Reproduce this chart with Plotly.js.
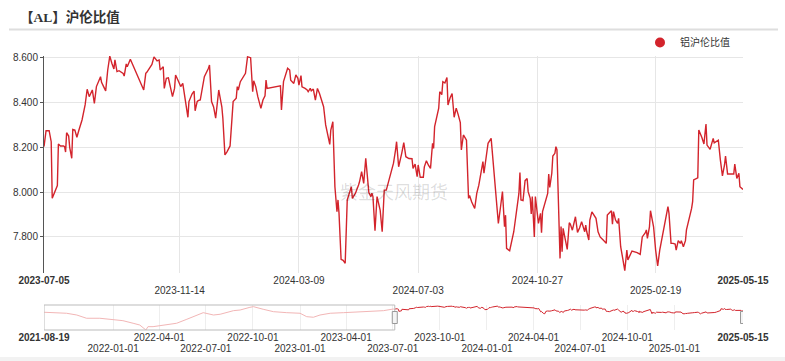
<!DOCTYPE html>
<html>
<head>
<meta charset="utf-8">
<script src="https://cdn.plot.ly/plotly-3.0.1.min.js"></script>
<style>html,body{margin:0;padding:0;background:#fff;}#chart{width:785px;height:361px;}</style>
</head>
<body>
<div id="chart"></div>
<script>
// ---- data ----
const seriesName = '铝沪伦比值';
const dates = ['2023-07-05','2023-07-07','2023-07-10','2023-07-12','2023-07-13','2023-07-16','2023-07-18','2023-07-19','2023-07-21','2023-07-24','2023-07-25','2023-07-26','2023-07-27','2023-07-29','2023-07-30','2023-08-01','2023-08-02','2023-08-04','2023-08-06','2023-08-08','2023-08-11','2023-08-14','2023-08-15','2023-08-16','2023-08-18','2023-08-21','2023-08-23','2023-08-24','2023-08-25','2023-08-29','2023-08-30','2023-09-01','2023-09-03','2023-09-05','2023-09-07','2023-09-09','2023-09-11','2023-09-12','2023-09-14','2023-09-16','2023-09-20','2023-09-21','2023-09-23','2023-09-24','2023-09-27','2023-10-10','2023-10-12','2023-10-13','2023-10-16','2023-10-18','2023-10-20','2023-10-23','2023-10-25','2023-10-26','2023-10-27','2023-10-29','2023-10-30','2023-11-01','2023-11-03','2023-11-05','2023-11-07','2023-11-09','2023-11-10','2023-11-13','2023-11-15','2023-11-17','2023-11-18','2023-11-20','2023-11-22','2023-11-23','2023-11-26','2023-11-28','2023-11-29','2023-12-01','2023-12-02','2023-12-04','2023-12-06','2023-12-08','2023-12-12','2023-12-13','2023-12-15','2023-12-17','2023-12-19','2023-12-22','2023-12-23','2023-12-25','2023-12-26','2023-12-28','2023-12-30','2024-01-02','2024-01-04','2024-01-05','2024-01-08','2024-01-09','2024-01-10','2024-01-12','2024-01-17','2024-01-19','2024-01-22','2024-01-24','2024-01-25','2024-01-27','2024-01-29','2024-02-01','2024-02-03','2024-02-05','2024-02-06','2024-02-07','2024-02-20','2024-02-21','2024-02-23','2024-02-25','2024-02-27','2024-02-29','2024-03-01','2024-03-04','2024-03-06','2024-03-08','2024-03-09','2024-03-11','2024-03-12','2024-03-15','2024-03-17','2024-03-18','2024-03-20','2024-03-21','2024-03-23','2024-03-25','2024-03-27','2024-03-29','2024-04-02','2024-04-04','2024-04-08','2024-04-09','2024-04-11','2024-04-13','2024-04-15','2024-04-16','2024-04-17','2024-04-19','2024-04-21','2024-04-23','2024-04-25','2024-04-28','2024-04-29','2024-04-30','2024-05-03','2024-05-06','2024-05-07','2024-05-09','2024-05-11','2024-05-13','2024-05-15','2024-05-16','2024-05-18','2024-05-19','2024-05-20','2024-05-22','2024-05-24','2024-05-25','2024-05-27','2024-05-29','2024-05-31','2024-06-02','2024-06-04','2024-06-06','2024-06-09','2024-06-11','2024-06-12','2024-06-14','2024-06-15','2024-06-17','2024-06-19','2024-06-21','2024-06-24','2024-06-27','2024-06-28','2024-06-30','2024-07-02','2024-07-03','2024-07-05','2024-07-08','2024-07-09','2024-07-11','2024-07-13','2024-07-15','2024-07-17','2024-07-18','2024-07-19','2024-07-22','2024-07-23','2024-07-24','2024-07-26','2024-07-27','2024-07-29','2024-07-31','2024-08-01','2024-08-03','2024-08-05','2024-08-07','2024-08-09','2024-08-11','2024-08-13','2024-08-14','2024-08-16','2024-08-19','2024-08-21','2024-08-22','2024-08-24','2024-08-27','2024-08-29','2024-08-31','2024-09-02','2024-09-04','2024-09-05','2024-09-07','2024-09-09','2024-09-12','2024-09-14','2024-09-17','2024-09-19','2024-09-21','2024-09-23','2024-09-25','2024-09-26','2024-09-27','2024-09-30','2024-10-04','2024-10-07','2024-10-09','2024-10-10','2024-10-11','2024-10-13','2024-10-15','2024-10-17','2024-10-18','2024-10-20','2024-10-21','2024-10-22','2024-10-24','2024-10-25','2024-10-27','2024-10-28','2024-10-30','2024-10-31','2024-11-01','2024-11-03','2024-11-06','2024-11-07','2024-11-08','2024-11-10','2024-11-11','2024-11-13','2024-11-14','2024-11-15','2024-11-18','2024-11-19','2024-11-20','2024-11-21','2024-11-23','2024-11-25','2024-11-27','2024-11-28','2024-11-30','2024-12-03','2024-12-05','2024-12-07','2024-12-09','2024-12-12','2024-12-13','2024-12-14','2024-12-16','2024-12-17','2024-12-19','2024-12-20','2024-12-23','2024-12-25','2024-12-27','2024-12-30','2025-01-02','2025-01-03','2025-01-06','2025-01-07','2025-01-08','2025-01-09','2025-01-11','2025-01-13','2025-01-14','2025-01-16','2025-01-18','2025-01-20','2025-01-22','2025-01-23','2025-01-27','2025-02-01','2025-02-04','2025-02-06','2025-02-09','2025-02-10','2025-02-11','2025-02-13','2025-02-14','2025-02-16','2025-02-17','2025-02-19','2025-02-21','2025-02-23','2025-02-25','2025-02-26','2025-03-01','2025-03-03','2025-03-04','2025-03-06','2025-03-08','2025-03-10','2025-03-11','2025-03-13','2025-03-15','2025-03-16','2025-03-18','2025-03-20','2025-03-21','2025-03-24','2025-03-26','2025-03-27','2025-03-28','2025-04-01','2025-04-02','2025-04-05','2025-04-07','2025-04-09','2025-04-10','2025-04-13','2025-04-16','2025-04-17','2025-04-19','2025-04-21','2025-04-23','2025-04-25','2025-04-27','2025-04-28','2025-04-30','2025-05-02','2025-05-05','2025-05-06','2025-05-07','2025-05-09','2025-05-11','2025-05-12','2025-05-15'];
const values = [8.203,8.274,8.274,8.225,7.972,8.012,8.029,8.215,8.206,8.206,8.203,8.179,8.265,8.250,8.200,8.151,8.280,8.277,8.245,8.277,8.322,8.389,8.441,8.459,8.426,8.456,8.396,8.450,8.471,8.515,8.490,8.471,8.452,8.545,8.607,8.575,8.550,8.590,8.538,8.542,8.530,8.518,8.572,8.560,8.593,8.456,8.530,8.535,8.560,8.570,8.604,8.586,8.590,8.545,8.550,8.560,8.463,8.508,8.510,8.470,8.426,8.463,8.523,8.493,8.471,8.485,8.456,8.411,8.334,8.404,8.438,8.451,8.363,8.404,8.408,8.411,8.463,8.515,8.553,8.567,8.404,8.380,8.330,8.456,8.430,8.381,8.330,8.166,8.180,8.206,8.337,8.404,8.419,8.471,8.456,8.493,8.530,8.604,8.600,8.448,8.497,8.471,8.426,8.374,8.411,8.430,8.500,8.463,8.474,8.367,8.493,8.530,8.553,8.545,8.500,8.485,8.523,8.508,8.478,8.520,8.470,8.463,8.456,8.448,8.463,8.452,8.460,8.411,8.463,8.440,8.381,8.300,8.213,8.277,8.314,8.024,7.912,7.965,7.905,7.700,7.695,7.682,7.965,8.009,8.024,7.972,7.995,8.032,8.047,8.091,8.039,8.151,8.017,7.998,7.980,7.995,7.980,7.828,7.980,7.958,7.920,7.823,8.009,8.009,8.047,8.072,8.129,8.188,8.225,8.113,8.130,8.173,8.221,8.158,8.150,8.149,8.106,8.125,8.069,8.121,8.066,8.066,8.113,8.140,8.120,8.106,8.218,8.195,8.292,8.367,8.375,8.448,8.435,8.493,8.487,8.512,8.389,8.420,8.440,8.334,8.375,8.345,8.310,8.188,8.255,8.232,7.972,7.985,7.957,7.927,7.994,8.031,8.076,8.136,8.084,8.143,8.218,8.240,8.128,7.994,7.860,7.930,8.002,7.845,7.897,7.749,7.738,7.823,7.920,7.994,8.087,7.965,7.962,8.051,8.061,8.002,7.972,7.902,7.980,7.800,7.980,7.897,7.860,7.905,7.819,7.913,7.950,7.994,8.081,8.021,8.084,8.161,8.173,8.203,8.190,7.704,7.846,7.734,7.838,7.786,7.744,7.863,7.857,7.830,7.890,7.820,7.840,7.868,7.823,7.853,7.823,7.786,7.875,7.912,7.905,7.883,7.823,7.800,7.786,7.771,7.898,7.913,7.917,7.857,7.913,7.875,7.860,7.883,7.756,7.704,7.649,7.741,7.697,7.737,7.730,7.722,7.800,7.819,7.831,7.793,7.845,7.917,7.868,7.845,7.741,7.670,7.741,7.793,7.816,7.893,7.935,7.905,7.771,7.771,7.768,7.741,7.783,7.771,7.783,7.756,7.783,7.831,7.883,7.927,7.957,8.054,8.064,8.277,8.244,8.215,8.304,8.210,8.191,8.240,8.220,8.228,8.232,8.143,8.072,8.121,8.161,8.081,8.081,8.081,8.081,8.125,8.061,8.084,8.024,8.012];

// earlier history, visible only in the overview strip
const histDates = ['2021-08-19','2021-09-13','2021-10-02','2021-10-22','2021-11-10','2021-12-06','2022-01-01','2022-01-20','2022-02-09','2022-02-22','2022-03-06','2022-03-10','2022-03-20','2022-04-16','2022-05-05','2022-05-25','2022-06-13','2022-06-26','2022-07-16','2022-07-29','2022-08-24','2022-09-06','2022-09-25','2022-10-02','2022-10-21','2022-11-10','2022-12-06','2023-01-01','2023-01-14','2023-01-27','2023-02-09','2023-03-01','2023-03-27','2023-04-22','2023-05-18','2023-06-13','2023-07-02','2023-07-05'];
const histValues = [7.86,7.82,7.74,7.53,7.14,7.14,7.02,6.85,6.54,6.33,5.73,6.13,6.13,6.33,6.54,7.02,7.53,7.81,7.53,7.62,8.05,8.13,8.45,8.53,8.22,7.93,7.81,7.74,7.33,7.26,7.53,7.74,7.81,7.86,7.93,8.05,8.25,8.203];

const mainTicksTop = ['2023-07-05','2024-03-09','2024-10-27','2025-05-15'];
const mainTicksBottom = ['2023-11-14','2024-07-03','2025-02-19'];
const navTicksTop = ['2021-08-19','2022-04-01','2022-10-01','2023-04-01','2023-10-01','2024-04-01','2024-10-01','2025-05-15'];
const navTicksBottom = ['2022-01-01','2022-07-01','2023-01-01','2023-07-01','2024-01-01','2024-07-01','2025-01-01'];
const yTicks = [7.8, 8.0, 8.2, 8.4, 8.6];

// ---- drawing ----
const W = 785, H = 361;
const RED = '#d3242c';
const px = v => v / W;
const py = v => 1 - v / H;
const xDom = [px(44), px(743)];
const boldEnds = (arr) => arr.map((d, i) => (i === 0 || i === arr.length - 1) ? '<b>' + d + '</b>' : d);
const blanks = (arr) => arr.map(() => '');

const traces = [
  {x: dates, y: values, xaxis: 'x', yaxis: 'y', type: 'scatter', mode: 'lines',
   line: {color: RED, width: 1.4}, showlegend: false, hoverinfo: 'skip'},
  {x: histDates, y: histValues, xaxis: 'x2', yaxis: 'y2', type: 'scatter', mode: 'lines',
   line: {color: '#f2b6b6', width: 1}, showlegend: false, hoverinfo: 'skip'},
  {x: dates, y: values, xaxis: 'x2', yaxis: 'y2', type: 'scatter', mode: 'lines',
   line: {color: RED, width: 1}, showlegend: false, hoverinfo: 'skip'},
  // carriers for the second row of tick labels (no visible marks)
  {x: mainTicksBottom, y: mainTicksBottom.map(() => null), xaxis: 'x3', yaxis: 'y',
   type: 'scatter', mode: 'markers', showlegend: false, hoverinfo: 'skip'},
  {x: navTicksBottom, y: navTicksBottom.map(() => null), xaxis: 'x4', yaxis: 'y2',
   type: 'scatter', mode: 'markers', showlegend: false, hoverinfo: 'skip'},
  {x: [null], y: [null], xaxis: 'x', yaxis: 'y', type: 'scatter', mode: 'markers',
   marker: {color: RED, size: 10, symbol: 'circle'}, name: seriesName, showlegend: true}
];

const layout = {
  width: W, height: H,
  margin: {l: 0, r: 0, t: 0, b: 0},
  paper_bgcolor: '#ffffff', plot_bgcolor: 'rgba(0,0,0,0)',
  font: {family: 'Liberation Sans, Arial, sans-serif', size: 10, color: '#333'},
  title: {text: '<b>【AL】沪伦比值</b>', x: px(20), xanchor: 'left', xref: 'paper',
          y: py(17), yanchor: 'middle', yref: 'paper',
          font: {family: 'Liberation Serif, Noto Sans CJK SC, serif', size: 13.5, color: '#333'}},
  xaxis: {domain: xDom, anchor: 'y', type: 'date', range: ['2023-07-05', '2025-05-15'],
          tickmode: 'array', tickvals: mainTicksTop.concat(mainTicksBottom),
          ticktext: boldEnds(mainTicksTop).concat(blanks(mainTicksBottom)),
          showgrid: true, gridcolor: '#e6e6e6', gridwidth: 1, zeroline: false, showline: false,
          ticks: '', tickfont: {size: 10, color: '#333'}, fixedrange: true},
  xaxis3: {overlaying: 'x', anchor: 'y', side: 'bottom', type: 'date', range: ['2023-07-05', '2025-05-15'],
          tickmode: 'array', tickvals: mainTicksBottom, ticktext: mainTicksBottom,
          showgrid: false, zeroline: false, showline: false, ticks: '',
          ticklabelstandoff: 10, tickfont: {size: 10, color: '#333'}, fixedrange: true},
  yaxis: {domain: [py(272.5), py(56)], anchor: 'x', range: [7.641, 8.6076],
          tickmode: 'array', tickvals: yTicks, tickformat: '.3f',
          showgrid: true, gridcolor: '#e6e6e6', zeroline: false,
          showline: true, linecolor: '#555', linewidth: 1,
          ticks: 'outside', ticklen: 3, tickcolor: '#555',
          tickfont: {size: 10, color: '#333'}, fixedrange: true},
  xaxis2: {domain: xDom, anchor: 'y2', type: 'date', range: ['2021-08-19', '2025-05-15'],
          tickmode: 'array', tickvals: navTicksTop.concat(navTicksBottom),
          ticktext: boldEnds(navTicksTop).concat(blanks(navTicksBottom)),
          showgrid: true, gridcolor: '#eeeeee', zeroline: false, showline: false, ticks: '',
          ticklabelstandoff: 0, tickfont: {size: 10, color: '#333'}, fixedrange: true},
  xaxis4: {overlaying: 'x2', anchor: 'y2', side: 'bottom', type: 'date', range: ['2021-08-19', '2025-05-15'],
          tickmode: 'array', tickvals: navTicksBottom, ticktext: navTicksBottom,
          showgrid: false, zeroline: false, showline: false, ticks: '',
          ticklabelstandoff: 11, tickfont: {size: 10, color: '#333'}, fixedrange: true},
  yaxis2: {domain: [py(330), py(305)], anchor: 'x2', range: [5.73, 8.73],
          visible: false, fixedrange: true},
  legend: {x: px(640), y: py(42.5), xanchor: 'left', yanchor: 'middle',
           bgcolor: 'rgba(0,0,0,0)', font: {size: 10, color: '#333', family: 'Noto Sans CJK SC, sans-serif'},
           itemwidth: 30},
  annotations: [
    {text: '紫金天风期货', xref: 'paper', yref: 'paper', x: px(394), y: py(190.7),
     xanchor: 'center', yanchor: 'middle', showarrow: false,
     font: {family: 'Noto Sans CJK SC, sans-serif', size: 18, color: 'rgba(0,0,0,0.14)'}}
  ],
  shapes: [
    {type: 'rect', xref: 'paper', yref: 'paper', x0: 0, x1: 1, y0: 0, y1: py(357), layer: 'below',
     line: {width: 0}, fillcolor: '#f2f2f2'},
    {type: 'line', xref: 'paper', yref: 'paper', x0: px(9), x1: px(778), y0: py(29.5), y1: py(29.5),
     line: {color: '#dedede', width: 2}},
    {type: 'rect', xref: 'x2', yref: 'paper', x0: '2021-08-19', x1: '2023-07-05', y0: py(330), y1: py(305),
     line: {color: '#bbbbbb', width: 1}, fillcolor: 'rgba(0,0,0,0)'},
    {type: 'rect', xref: 'x2', yref: 'paper', xsizemode: 'pixel', xanchor: '2023-07-05', x0: -2.5, x1: 2.5,
     y0: py(323.5), y1: py(311.5), line: {color: '#999', width: 1}, fillcolor: '#f4f4f4'},
    {type: 'rect', xref: 'x2', yref: 'paper', xsizemode: 'pixel', xanchor: '2025-05-15', x0: -2.5, x1: 2.5,
     y0: py(323.5), y1: py(311.5), line: {color: '#999', width: 1}, fillcolor: '#f4f4f4'}
  ]
};

Plotly.newPlot('chart', traces, layout, {displayModeBar: false, staticPlot: true});
</script>
</body>
</html>
